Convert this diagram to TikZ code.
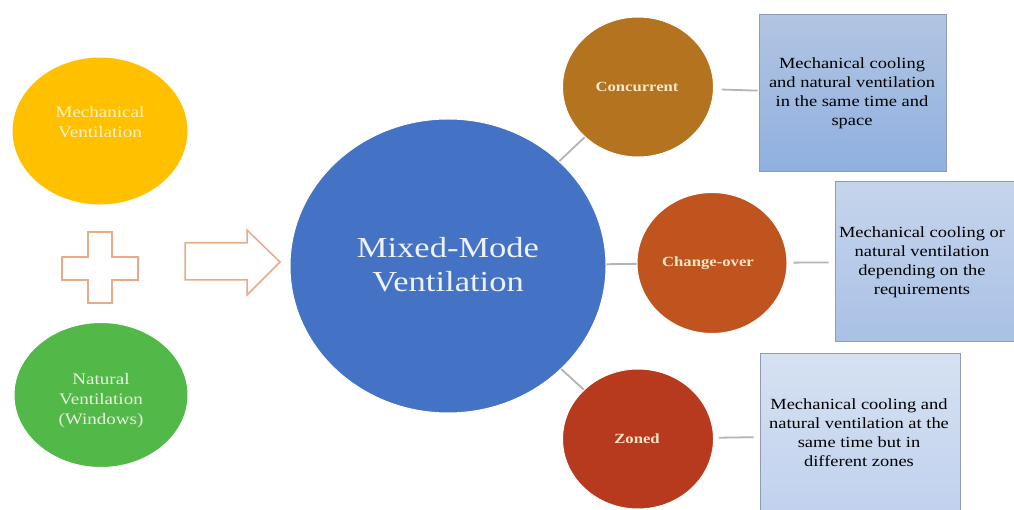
\documentclass[tikz,border=0pt]{standalone}
\usepackage{fontspec}
\setmainfont{Liberation Serif}[FakeStretch=1.19]
\usetikzlibrary{shapes.geometric}
\definecolor{cyellow}{HTML}{FFC000}
\definecolor{cgreen}{HTML}{52B848}
\definecolor{cblue}{HTML}{4472C4}
\definecolor{cconc}{HTML}{B4731F}
\definecolor{cchange}{HTML}{C0541F}
\definecolor{czoned}{HTML}{B83A1E}
\definecolor{linegray}{HTML}{B4B4B4}
\definecolor{boxedge}{HTML}{8E9CB2}
\definecolor{shapeorange}{HTML}{E8AA88}
\definecolor{txtyellow}{HTML}{FFF2CC}
\definecolor{txtgreen}{HTML}{E8F4E0}
\definecolor{txtblue}{HTML}{EEF2FA}
\definecolor{txtwarm}{HTML}{FBE8C8}
\definecolor{ctop}{HTML}{B2C5E2}
\definecolor{cbot}{HTML}{8FB0E0}
\definecolor{gtop}{HTML}{C6D5EC}
\definecolor{gbot}{HTML}{A9C1E6}
\definecolor{ztop}{HTML}{D6E1F2}
\definecolor{zbot}{HTML}{C0D1EE}
\begin{document}
\begin{tikzpicture}[x=1pt,y=-1pt,
  bubble/.style={ellipse, inner sep=0pt, draw=white, line width=1pt},
  bigtxt/.style={align=center, inner sep=0pt, font=\fontsize{16}{20}\selectfont},
  smalltxt/.style={align=center, inner sep=0pt, font=\bfseries\fontsize{14}{17}\selectfont, text=txtwarm},
  conn/.style={draw=linegray, line width=1.8pt},
  desc/.style={rectangle, draw=boxedge, line width=1pt, inner sep=0pt},
  desctxt/.style={align=center, inner sep=0pt, text=black, font=\fontsize{15.5}{19}\selectfont},
  outline/.style={draw=shapeorange, line width=1.5pt, fill=white, line join=miter}
]
\clip (0,0) rectangle (1014,510);
\fill[white] (0,0) rectangle (1014,510);

% left circles
\node[bubble, fill=cyellow, minimum width=176pt, minimum height=148pt] (mech) at (100,131) {};
\node[bigtxt, text=txtyellow] (mechtxt) at (100,122) {Mechanical\\Ventilation};
\node[bubble, fill=cgreen, minimum width=174pt, minimum height=145pt] (nat) at (101,395) {};
\node[bigtxt, text=txtgreen] (nattxt) at (101,401) {Natural\\Ventilation\\(Windows)};

% plus sign
\draw[outline] (88,232) -- (112,232) -- (112,257) -- (138,257) -- (138,280) -- (112,280)
  -- (112,303) -- (88,303) -- (88,280) -- (62,280) -- (62,257) -- (88,257) -- cycle;
% block arrow
\draw[outline] (185,243) -- (247,243) -- (247,230) -- (280,262) -- (247,295) -- (247,280) -- (185,280) -- cycle;

% central circle
\node[bubble, fill=cblue, minimum width=316pt, minimum height=294pt] (mm) at (448,266) {};
\node[align=center, inner sep=0pt, text=txtblue, font=\fontsize{29}{34}\selectfont] (mmtxt) at (448,265) {Mixed-Mode\\Ventilation};

% mode circles
\node[bubble, fill=cconc, minimum width=151pt, minimum height=140pt] (conc) at (638,87) {};
\node[smalltxt] (conctxt) at (637,87) {Concurrent};
\node[bubble, fill=cchange, minimum width=150pt, minimum height=141pt] (chg) at (712,263) {};
\node[smalltxt] (chgtxt) at (708,263) {Change-over};
\node[bubble, fill=czoned, minimum width=151pt, minimum height=140pt] (zon) at (638,439) {};
\node[smalltxt] (zontxt) at (637,439) {Zoned};

% description boxes
\node[desc, top color=ctop, bottom color=cbot, minimum width=187pt, minimum height=157pt] (cbox) at (852.5,93.5) {};
\node[desctxt] (cboxtxt) at (852,93) {Mechanical cooling\\and natural ventilation\\in the same time and\\space};
\node[desc, top color=gtop, bottom color=gbot, minimum width=190pt, minimum height=160pt] (gbox) at (930,262) {};
\node[desctxt] (gboxtxt) at (922,262) {Mechanical cooling or\\natural ventilation\\depending on the\\requirements};
\node[desc, top color=ztop, bottom color=zbot, minimum width=200pt, minimum height=165pt] (zbox) at (860,435.5) {};
\node[desctxt] (zboxtxt) at (859,433) {Mechanical cooling and\\natural ventilation at the\\same time but in\\different zones};

% connectors
\draw[conn] (mm) -- (conc);
\draw[conn] (mm) -- (chg);
\draw[conn] (mm) -- (zon);
\draw[conn, shorten <=8pt, shorten >=1pt] (conc) -- (cbox);
\draw[conn, shorten <=6pt, shorten >=6pt] (chg) -- (gbox);
\draw[conn, shorten <=5pt, shorten >=6pt] (zon) -- (zbox);
\end{tikzpicture}
\end{document}
